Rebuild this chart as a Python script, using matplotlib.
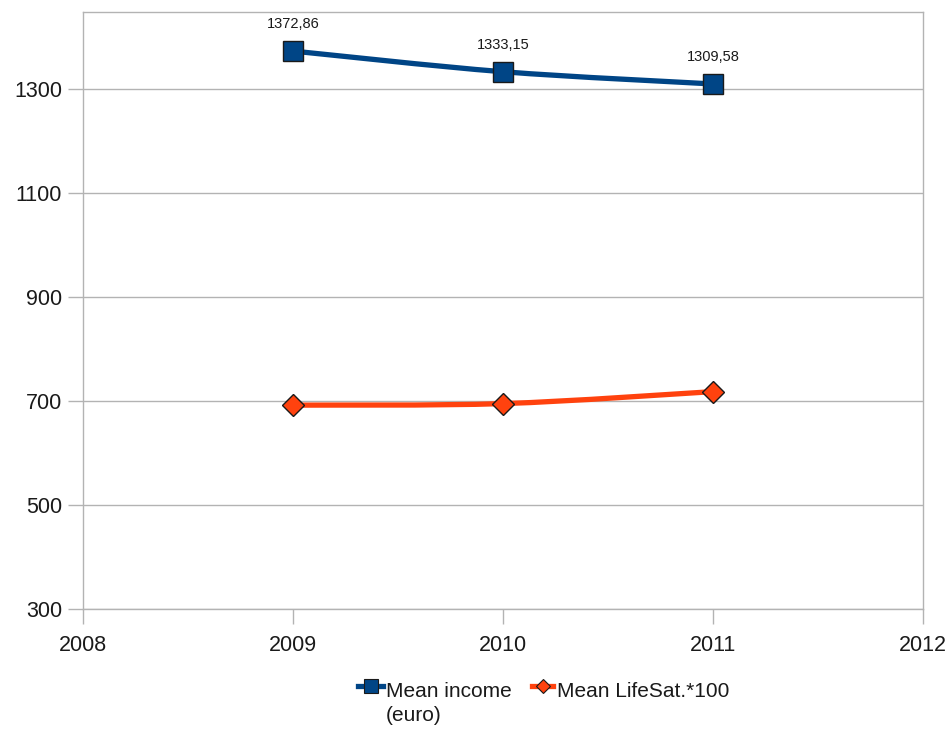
import matplotlib
matplotlib.use("Agg")
import matplotlib.pyplot as plt
from matplotlib.path import Path
from matplotlib.patches import PathPatch
from matplotlib.lines import Line2D
import numpy as np

years = [2009, 2010, 2011]
income = [1372.86, 1333.15, 1309.58]
lifesat = [692, 695, 718]
income_labels = ["1372,86", "1333,15", "1309,58"]
series_names = ["Mean income\n(euro)", "Mean LifeSat.*100"]
xticks = [2008, 2009, 2010, 2011, 2012]
yticks = [300, 500, 700, 900, 1100, 1300]

BLUE = "#004586"
ORANGE = "#ff420e"
GRID = "#b3b3b3"
TXT = "#1a1a1a"
W, H = 951, 733

plt.rcParams['font.family'] = ['Liberation Sans', 'DejaVu Sans']

fig = plt.figure(figsize=(W/100, H/100), dpi=100)
ax = fig.add_axes([83/W, 1-609/H, (923-83)/W, (609-12)/H])
ax.set_xlim(2008, 2012)
ax.set_ylim(300, 1448)


def smooth_path(xs, ys):
    # Catmull-Rom style cubic Bezier through the data points
    xs = np.asarray(xs, float); ys = np.asarray(ys, float)
    n = len(xs)
    verts = [(xs[0], ys[0])]
    codes = [Path.MOVETO]
    for i in range(n - 1):
        p0 = (xs[max(i-1, 0)], ys[max(i-1, 0)])
        p1 = (xs[i], ys[i])
        p2 = (xs[i+1], ys[i+1])
        p3 = (xs[min(i+2, n-1)], ys[min(i+2, n-1)])
        c1 = (p1[0] + (p2[0]-p0[0])/6, p1[1] + (p2[1]-p0[1])/6)
        c2 = (p2[0] - (p3[0]-p1[0])/6, p2[1] - (p3[1]-p1[1])/6)
        verts += [c1, c2, p2]
        codes += [Path.CURVE4]*3
    return Path(verts, codes)

ax.add_patch(PathPatch(smooth_path(years, income), facecolor='none', edgecolor=BLUE,
                       lw=3.8, zorder=3, capstyle='round'))
ax.add_patch(PathPatch(smooth_path(years, lifesat), facecolor='none', edgecolor=ORANGE,
                       lw=3.8, zorder=3, capstyle='round'))

ax.plot(years, income, ls='none', marker='s', ms=14, mfc=BLUE, mec='#1a1a1a', mew=1.0, zorder=4)
ax.plot(years, lifesat, ls='none', marker='D', ms=11, mfc=ORANGE, mec='#1a1a1a', mew=1.0, zorder=4)

for x, y, s in zip(years, income, income_labels):
    ax.annotate(s, (x, y), xytext=(0, 16.5), textcoords='offset points', ha='center',
                va='baseline', fontsize=10.5, color=TXT)

# legend drawn in figure pixel coordinates
def fx(px):
    return px / W

def fy(py):
    return 1 - py / H

def legend_label(x, text):
    for i, line in enumerate(text.split("\n")):
        fig.text(fx(x), fy(697 + 24 * i), line, fontsize=15, color=TXT, ha='left',
                 va='baseline')

fig.add_artist(Line2D([fx(358), fx(383)], [fy(686), fy(686)], color=BLUE, lw=3.8,
                      transform=fig.transFigure))
fig.add_artist(Line2D([fx(370.5)], [fy(686)], ls='none', marker='s', ms=10, mfc=BLUE,
                      mec='#1a1a1a', mew=0.8, transform=fig.transFigure))
legend_label(386, series_names[0])
fig.add_artist(Line2D([fx(532), fx(553)], [fy(686), fy(686)], color=ORANGE, lw=3.8,
                      transform=fig.transFigure))
fig.add_artist(Line2D([fx(543)], [fy(686)], ls='none', marker='D', ms=7.5, mfc=ORANGE,
                      mec='#1a1a1a', mew=0.8, transform=fig.transFigure))
legend_label(557, series_names[1])

ax.set_xticks(xticks)
ax.set_yticks(yticks)
ax.set_xticklabels([str(v) for v in xticks])
ax.set_yticklabels([str(v) for v in yticks])
ax.yaxis.grid(True, color=GRID, lw=1.0)
ax.set_axisbelow(True)
for sp in ax.spines.values():
    sp.set_color(GRID)
    sp.set_linewidth(1.0)
ax.tick_params(axis='both', colors=GRID, length=10.5, width=1.0, labelsize=15.5, labelcolor=TXT)
ax.tick_params(axis='x', pad=8.5)
ax.tick_params(axis='y', pad=4.5)

fig.savefig("out.png", dpi=100, facecolor='white')
